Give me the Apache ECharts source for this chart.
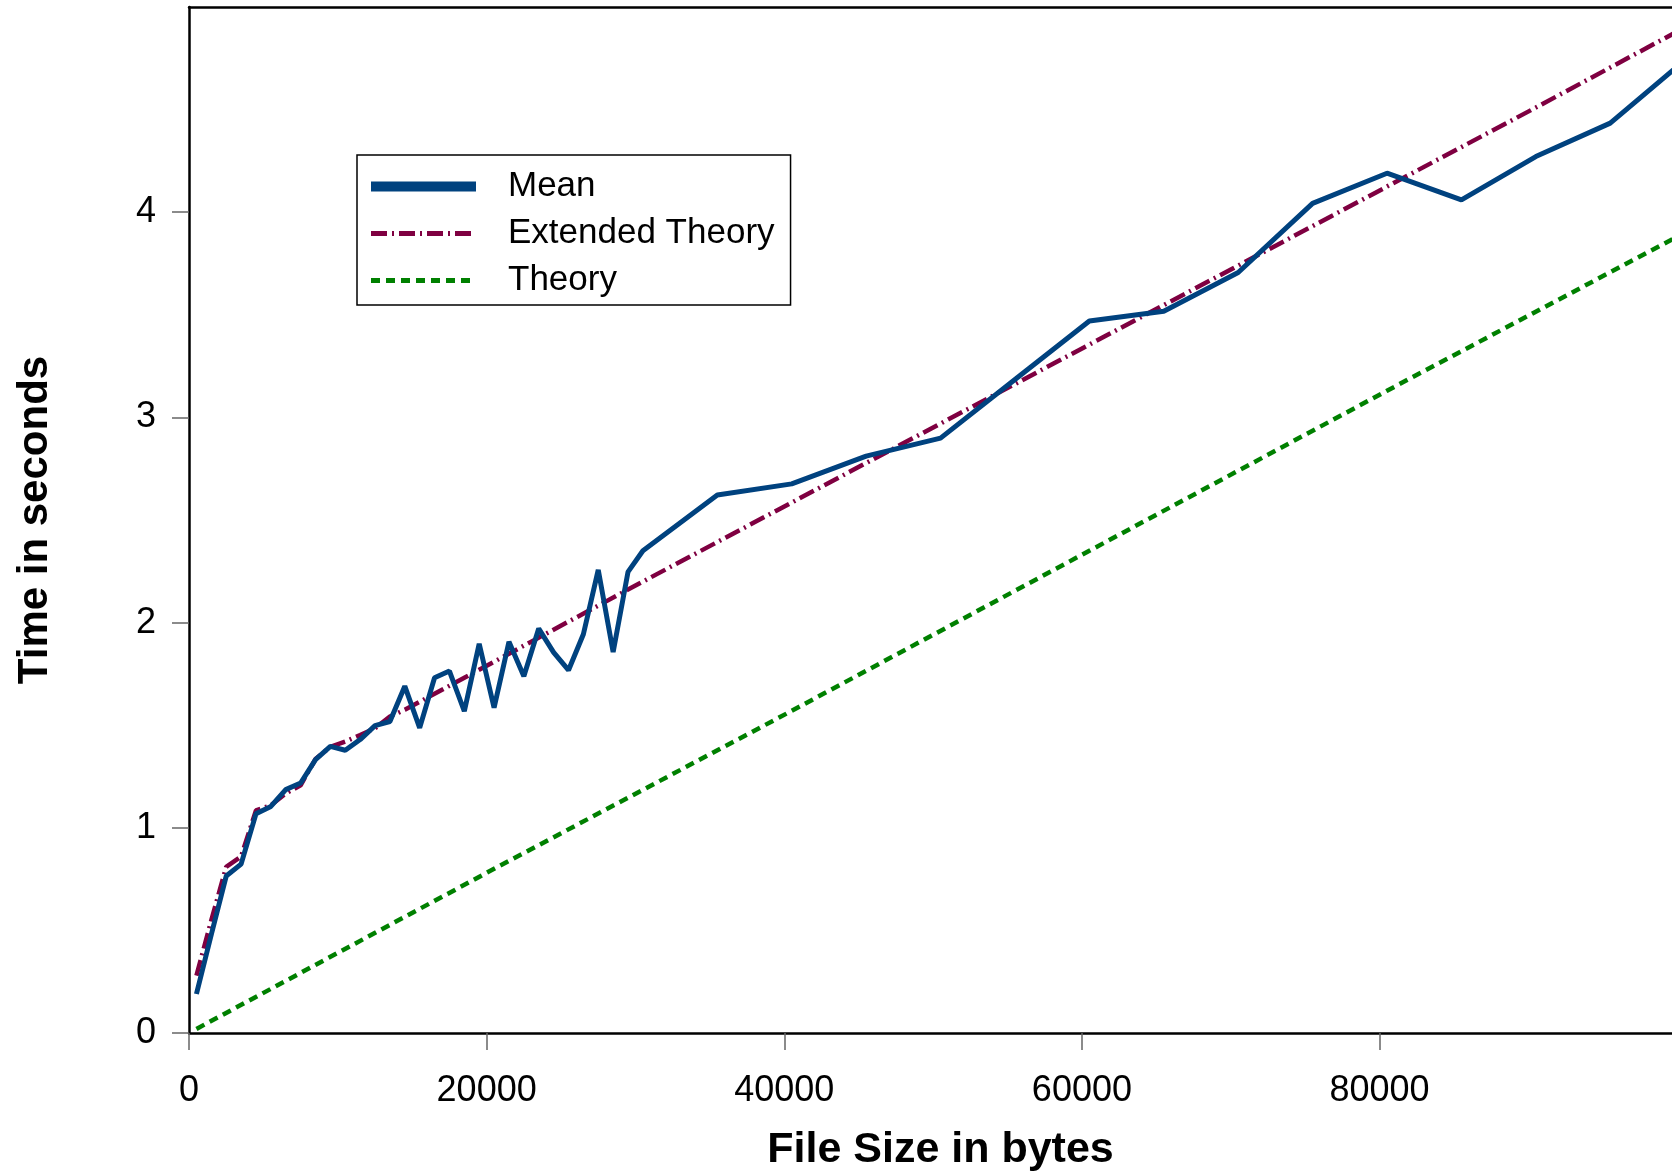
<!DOCTYPE html>
<html>
<head>
<meta charset="utf-8">
<script src="https://cdn.jsdelivr.net/npm/echarts@6/dist/echarts.min.js"></script>
<style>
  html, body { margin: 0; padding: 0; background: #fff; }
  #chart { width: 1672px; height: 1175px; }
</style>
</head>
<body>
<div id="chart"></div>
<script>
// file sizes (bytes) and measured mean times (s)
const meanSizes = [500, 1500, 2500, 3500, 4500, 5500, 6500, 7500, 8500, 9500,
  10500, 11500, 12500, 13500, 14500, 15500, 16500, 17500, 18500, 19500,
  20500, 21500, 22500, 23500, 24500, 25500, 26500, 27500, 28500, 29500,
  30500, 35500, 40500, 45500, 50500, 55500, 60500, 65500, 70500, 75500,
  80500, 85500, 90500, 95500, 100500];
const meanTimes = [0.19, 0.48, 0.765, 0.823, 1.068, 1.104, 1.186, 1.218, 1.332, 1.397,
  1.378, 1.43, 1.498, 1.518, 1.69, 1.487, 1.731, 1.764, 1.568, 1.897,
  1.585, 1.907, 1.739, 1.971, 1.855, 1.768, 1.943, 2.257, 1.856, 2.247,
  2.35, 2.622, 2.676, 2.811, 2.899, 3.185, 3.47, 3.517, 3.706, 4.043,
  4.19, 4.06, 4.271, 4.434, 4.74];

// extended theory
const extSizes = [500, 1500, 2500, 3500, 4500, 5500, 6500, 7500, 8500, 9500,
  10500, 11500, 12500, 13500, 14500, 30500, 50500, 70500, 90500, 100500];
const extTimes = [0.28, 0.55, 0.81, 0.86, 1.085, 1.11, 1.167, 1.207, 1.335, 1.394,
  1.42, 1.452, 1.485, 1.542, 1.575, 2.2, 2.97, 3.74, 4.51, 4.9];

// plain theory
const theorySizes = [500, 20500, 40500, 60500, 80500, 100500];
const theoryTimes = [0.02, 0.8, 1.57, 2.35, 3.13, 3.9];

const xTicks = { min: 0, max: 99650, step: 20000 };
const yTicks = { min: 0, max: 5, step: 1 };

const pairs = (xs, ys) => xs.map((x, i) => [x, ys[i]]);

const font = "'Liberation Sans', Arial, Helvetica, sans-serif";
const chart = echarts.init(document.getElementById('chart'));

chart.setOption({
  animation: false,
  backgroundColor: '#fff',
  textStyle: { fontFamily: font, color: '#000' },
  grid: { left: 189, right: 0, top: 7, bottom: 142, outerBoundsMode: 'none' },
  legend: {
    orient: 'vertical',
    left: 357,
    top: 155,
    padding: [14, 16, 7, 9],
    itemGap: 12,
    itemWidth: 105,
    itemHeight: 14,
    borderColor: '#000',
    borderWidth: 1.5,
    itemStyle: { opacity: 0 },
    textStyle: { fontSize: 35, color: '#000', fontFamily: font, padding: [0, 0, 0, 27] },
    data: [
      { name: 'Mean', lineStyle: { width: 10 } },
      { name: 'Extended Theory', lineStyle: { width: 5 } },
      { name: 'Theory', lineStyle: { width: 5 } }
    ]
  },
  xAxis: [
    {
      type: 'value',
      min: xTicks.min,
      max: xTicks.max,
      interval: xTicks.step,
      name: 'File Size in bytes',
      nameLocation: 'middle',
      nameGap: 96,
      nameTextStyle: { fontSize: 43, fontWeight: 'bold', color: '#000', padding: [0, 0, 0, 20] },
      axisLine: { onZero: false, lineStyle: { color: '#000', width: 2.5 } },
      axisTick: { show: true, length: 17, lineStyle: { color: '#666', width: 1.5 } },
      axisLabel: {
        fontSize: 36, color: '#000', margin: 40, showMaxLabel: false,
        formatter: (v) => String(v)
      },
      splitLine: { show: false }
    },
    {
      type: 'value',
      position: 'top',
      min: xTicks.min,
      max: xTicks.max,
      axisLine: { show: true, onZero: false, lineStyle: { color: '#000', width: 2.5 } },
      axisTick: { show: false },
      axisLabel: { show: false },
      splitLine: { show: false }
    }
  ],
  yAxis: {
    type: 'value',
    min: yTicks.min,
    max: yTicks.max,
    interval: yTicks.step,
    name: 'Time in seconds',
    nameLocation: 'middle',
    nameRotate: 90,
    nameGap: 133,
    nameTextStyle: { fontSize: 42, fontWeight: 'bold', color: '#000' },
    axisLine: { show: true, onZero: false, lineStyle: { color: '#000', width: 2.5 } },
    axisTick: { show: true, length: 17, lineStyle: { color: '#666', width: 1.5 } },
    axisLabel: { fontSize: 36, color: '#000', margin: 33, showMaxLabel: false, padding: [14, 0, 0, 0] },
    splitLine: { show: false }
  },
  series: [
    {
      name: 'Mean',
      type: 'line',
      symbol: 'none',
      data: pairs(meanSizes, meanTimes),
      lineStyle: { color: '#00427f', width: 5 },
      itemStyle: { color: '#00427f' },
      z: 4
    },
    {
      name: 'Extended Theory',
      type: 'line',
      symbol: 'none',
      data: pairs(extSizes, extTimes),
      lineStyle: { color: '#7f0041', width: 4.5, type: [16, 5, 2, 5] },
      itemStyle: { color: '#7f0041' },
      z: 3
    },
    {
      name: 'Theory',
      type: 'line',
      symbol: 'none',
      data: pairs(theorySizes, theoryTimes),
      lineStyle: { color: '#008000', width: 4.5, type: [9, 6] },
      itemStyle: { color: '#008000' },
      z: 2
    }
  ]
});
</script>
</body>
</html>
